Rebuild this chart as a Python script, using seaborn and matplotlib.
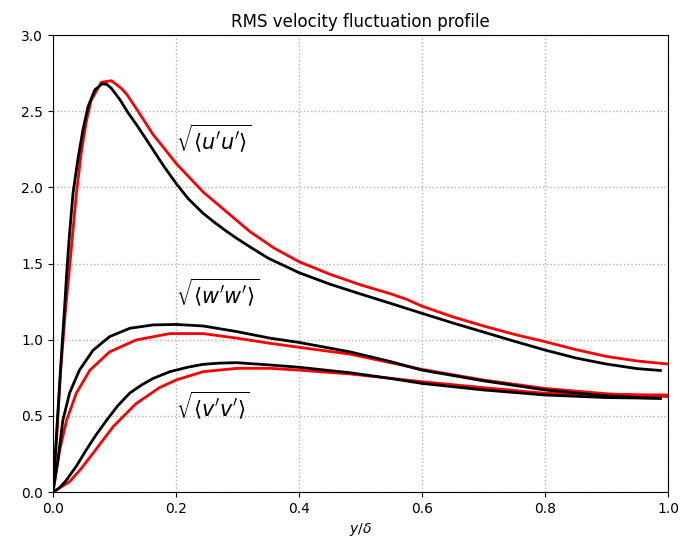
import matplotlib
matplotlib.use("Agg")
import matplotlib.pyplot as plt
import seaborn as sns
import pandas as pd

# Reference (DNS) profiles, black
dns_u_y = [0, 0.005, 0.01, 0.015, 0.019, 0.022, 0.026, 0.0325, 0.0407, 0.0488, 0.057,
           0.068, 0.080, 0.088, 0.095, 0.109, 0.122, 0.136, 0.15, 0.163, 0.18, 0.2,
           0.22, 0.244, 0.262, 0.282, 0.3, 0.32, 0.35, 0.4, 0.45, 0.5, 0.55, 0.6,
           0.65, 0.7, 0.75, 0.8, 0.85, 0.9, 0.95, 0.99]
dns_u = [0, 0.33, 0.66, 0.98, 1.22, 1.42, 1.65, 1.96, 2.19, 2.38, 2.53,
         2.64, 2.68, 2.675, 2.65, 2.575, 2.49, 2.41, 2.325, 2.245, 2.14, 2.027,
         1.925, 1.83, 1.772, 1.712, 1.662, 1.61, 1.535, 1.44, 1.365, 1.30, 1.237, 1.173,
         1.11, 1.05, 0.99, 0.932, 0.88, 0.84, 0.81, 0.797]

dns_w_y = [0, 0.004, 0.008, 0.016, 0.027, 0.043, 0.065, 0.092, 0.125, 0.163, 0.2,
           0.244, 0.299, 0.353, 0.4, 0.483, 0.55, 0.6, 0.65, 0.7, 0.75, 0.8,
           0.85, 0.9, 0.95, 0.99]
dns_w = [0, 0.11, 0.21, 0.47, 0.65, 0.80, 0.93, 1.02, 1.075, 1.097, 1.10,
         1.09, 1.053, 1.01, 0.982, 0.92, 0.855, 0.80, 0.765, 0.73, 0.70, 0.67,
         0.65, 0.632, 0.62, 0.615]

dns_v_y = [0, 0.01, 0.022, 0.038, 0.054, 0.07, 0.087, 0.105, 0.125, 0.145, 0.163,
           0.19, 0.22, 0.244, 0.27, 0.299, 0.353, 0.4, 0.483, 0.55, 0.6, 0.7,
           0.8, 0.9, 0.99]
dns_v = [0, 0.025, 0.079, 0.17, 0.276, 0.375, 0.47, 0.565, 0.65, 0.705, 0.746,
         0.79, 0.82, 0.838, 0.846, 0.849, 0.834, 0.819, 0.783, 0.745, 0.713, 0.67,
         0.637, 0.62, 0.615]

# Simulation profiles, red
les_u_y = [0, 0.006, 0.0125, 0.02, 0.028, 0.038, 0.046, 0.054, 0.062, 0.0785, 0.095,
           0.111, 0.12, 0.135, 0.163, 0.179, 0.2, 0.244, 0.282, 0.32, 0.36, 0.4,
           0.45, 0.5, 0.55, 0.575, 0.6, 0.65, 0.7, 0.75, 0.8, 0.85, 0.9, 0.95, 1.0]
les_u = [0, 0.36, 0.80, 1.18, 1.52, 1.96, 2.23, 2.43, 2.57, 2.69, 2.70,
         2.65, 2.61, 2.52, 2.345, 2.265, 2.158, 1.97, 1.84, 1.71, 1.60, 1.512,
         1.43, 1.36, 1.30, 1.265, 1.22, 1.15, 1.09, 1.035, 0.987, 0.935, 0.89, 0.86, 0.84]

les_w_y = [0, 0.011, 0.022, 0.038, 0.06, 0.092, 0.135, 0.19, 0.244, 0.299, 0.353,
           0.4, 0.483, 0.6, 0.7, 0.8, 0.9, 1.0]
les_w = [0, 0.276, 0.47, 0.65, 0.80, 0.92, 0.998, 1.04, 1.04, 1.01, 0.976,
         0.95, 0.905, 0.805, 0.735, 0.68, 0.645, 0.626]

les_v_y = [0, 0.01, 0.027, 0.045, 0.065, 0.098, 0.135, 0.173, 0.2, 0.244, 0.299,
           0.353, 0.4, 0.483, 0.6, 0.7, 0.8, 0.9, 1.0]
les_v = [0, 0.025, 0.068, 0.15, 0.254, 0.43, 0.58, 0.685, 0.735, 0.79, 0.812,
         0.812, 0.80, 0.775, 0.724, 0.685, 0.648, 0.64, 0.637]

x_ticks = [0.0, 0.2, 0.4, 0.6, 0.8, 1.0]
y_ticks = [0.0, 0.5, 1.0, 1.5, 2.0, 2.5, 3.0]

fig = plt.figure(figsize=(6.83, 5.49), dpi=100)
ax = fig.add_axes([0.0776, 0.1038, 0.9004, 0.8324])

curves = [
    (les_u_y, les_u, "red"), (les_w_y, les_w, "red"), (les_v_y, les_v, "red"),
    (dns_u_y, dns_u, "black"), (dns_w_y, dns_w, "black"), (dns_v_y, dns_v, "black"),
]
for yy, vals, col in curves:
    df = pd.DataFrame({"y": yy, "rms": vals})
    sns.lineplot(data=df, x="y", y="rms", color=col, linewidth=2,
                 estimator=None, sort=False, ax=ax,
                 solid_joinstyle="round", solid_capstyle="butt")

ax.text(0.2, 2.32, r"$\sqrt{\langle u'u' \rangle}$", fontsize=15, va="center", ha="left")
ax.text(0.2, 1.31, r"$\sqrt{\langle w'w' \rangle}$", fontsize=15, va="center", ha="left")
ax.text(0.2, 0.57, r"$\sqrt{\langle v'v' \rangle}$", fontsize=15, va="center", ha="left")

ax.set_xlim(0, 1)
ax.set_ylim(0, 3)
ax.set_xticks(x_ticks)
ax.set_yticks(y_ticks)
ax.grid(True, linestyle=":", color="#b0b0b0", linewidth=1)
ax.set_xlabel(r"$y/\delta$")
ax.set_ylabel("")
ax.set_title("RMS velocity fluctuation profile")

fig.savefig("out.png", dpi=100)
